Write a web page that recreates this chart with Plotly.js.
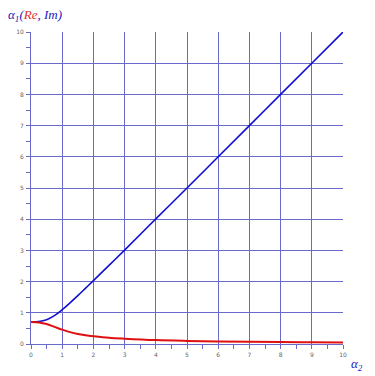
<!DOCTYPE html>
<html><head><meta charset="utf-8">
<script src="https://cdn.plot.ly/plotly-3.0.1.min.js"></script>
<style>html,body{margin:0;padding:0;background:#fff}#c{width:375px;height:376px}</style>
</head><body><div id="c"></div>
<script>
const xVals = [0, 0.25, 0.5, 0.75, 1, 1.25, 1.5, 1.75, 2, 2.5, 3, 4, 5, 6, 7, 8, 9, 10];
const imVals = [0.707, 0.72, 0.78, 0.91, 1.10, 1.32, 1.55, 1.79, 2.03, 2.52, 3.01, 4.01, 5.0, 6.0, 7.0, 8.0, 9.0, 10.0];
const reVals = [0.707, 0.69, 0.64, 0.55, 0.46, 0.38, 0.32, 0.28, 0.25, 0.20, 0.17, 0.125, 0.10, 0.083, 0.071, 0.062, 0.056, 0.05];
const tickVals = [0,1,2,3,4,5,6,7,8,9,10];
const tickText = ['0','1','2','3','4','5','6','7','8','9','10'];

const gridC = '#6a6acc';
const axisCommon = {
  range: [0, 10], tickvals: tickVals, ticktext: tickText,
  showgrid: true, gridcolor: gridC, gridwidth: 1,
  zeroline: false, showline: true, linecolor: gridC, linewidth: 1,
  ticks: 'outside', ticklen: 3, tickcolor: gridC,
  tickfont: {size: 6, color: '#666', family: 'DejaVu Sans'},
  minor: {dtick: 0.5, tick0: 0, ticks: 'outside', ticklen: 4, tickcolor: gridC, showgrid: false},
  fixedrange: true
};
const data = [
  {x: xVals, y: imVals, type: 'scatter', mode: 'lines', line: {color: '#1010d0', width: 1.6, shape: 'spline', smoothing: 1}, hoverinfo: 'skip'},
  {x: xVals, y: reVals, type: 'scatter', mode: 'lines', line: {color: '#e01010', width: 2, shape: 'spline', smoothing: 1}, hoverinfo: 'skip'}
];
const layout = {
  width: 375, height: 376,
  margin: {l: 31, r: 32, t: 32, b: 32},
  paper_bgcolor: '#fff', plot_bgcolor: '#fff',
  showlegend: false,
  xaxis: Object.assign({}, axisCommon, {ticklabelstandoff: 2}),
  yaxis: Object.assign({}, axisCommon, {ticklabelstandoff: 2}),
  annotations: [
    {xref: 'paper', yref: 'paper', x: -0.08, y: 1.054, xanchor: 'left', yanchor: 'middle', showarrow: false,
     text: '<i><span style="color:#2020c0">α</span><sub><span style="color:#2020c0">1</span></sub><span style="color:#2020c0">(</span><span style="color:#e03030">Re</span><span style="color:#2020c0">, Im)</span></i>',
     font: {family: 'Liberation Serif', size: 13, color: '#2020c0'}},
    {xref: 'paper', yref: 'paper', x: 1.02, y: -0.067, xanchor: 'left', yanchor: 'middle', showarrow: false,
     text: '<i>α<sub>2</sub></i>', font: {family: 'Liberation Serif', size: 13, color: '#2020c0'}}
  ]
};
Plotly.newPlot('c', data, layout, {displayModeBar: false, staticPlot: true});
</script></body></html>
